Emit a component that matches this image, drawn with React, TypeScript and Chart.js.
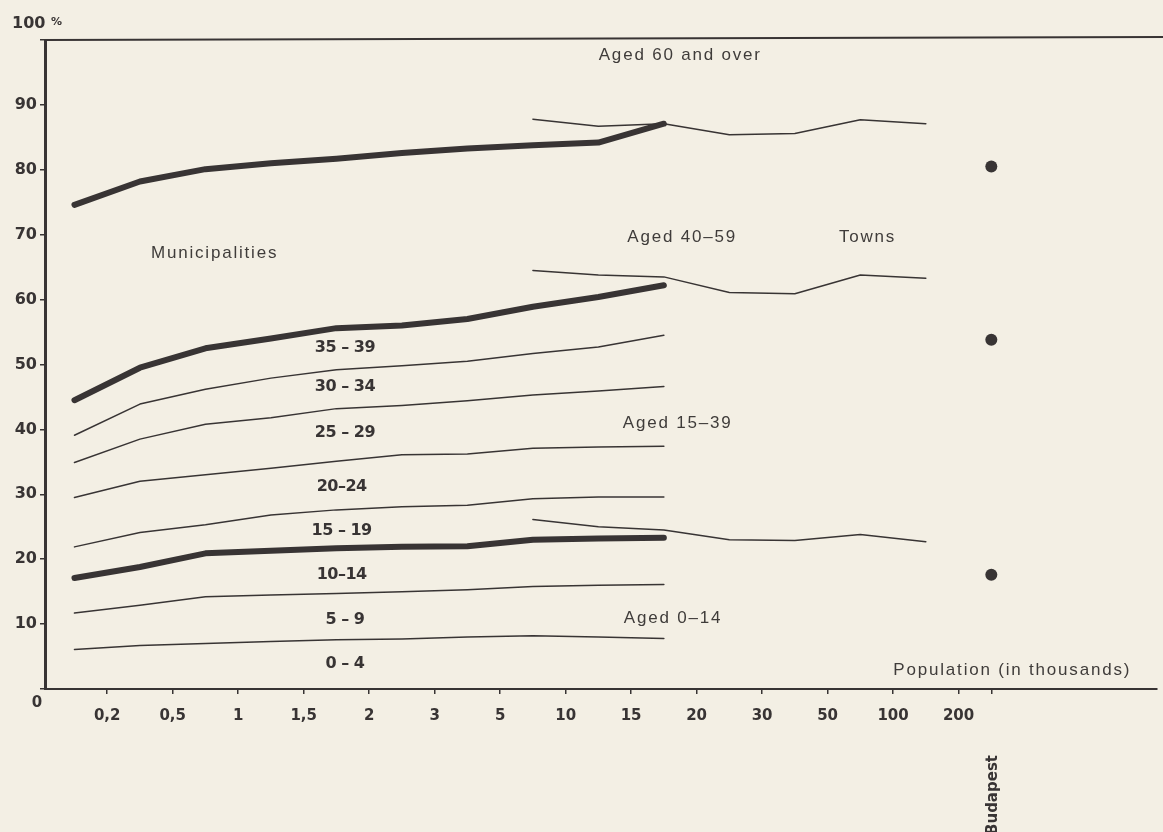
import { useEffect, useRef } from 'react';
import { Chart, registerables } from 'chart.js';

Chart.register(...registerables);

// ---------- data ----------
// settlement size boundaries (population, thousands) used as x tick labels
const sizeTickLabels = ['0,2', '0,5', '1', '1,5', '2', '3', '5', '10', '15', '20', '30', '50', '100', '200'];
// size classes (upper bound after the dash)
const municipalityClasses = ['–0,2', '0,2–0,5', '0,5–1', '1–1,5', '1,5–2', '2–3', '3–5', '5–10', '10–15', '15–20'];
const townClasses = ['5–10', '10–15', '15–20', '20–30', '30–50', '50–100', '100–200'];

// municipalities: cumulative share (%) of the population up to the given age
const munUpTo4 = [6.1, 6.7, 7.0, 7.3, 7.6, 7.7, 8.0, 8.2, 8.0, 7.8];
const munUpTo9 = [11.7, 12.9, 14.2, 14.5, 14.7, 15.0, 15.3, 15.8, 16.0, 16.1];
const munUpTo14 = [17.1, 18.8, 20.9, 21.3, 21.7, 21.9, 22.0, 23.0, 23.2, 23.3];
const munUpTo19 = [21.9, 24.1, 25.3, 26.8, 27.6, 28.1, 28.3, 29.3, 29.6, 29.6];
const munUpTo24 = [29.5, 32.0, 33.0, 34.0, 35.1, 36.1, 36.2, 37.1, 37.3, 37.4];
const munUpTo29 = [34.9, 38.5, 40.8, 41.8, 43.2, 43.7, 44.4, 45.3, 45.9, 46.6];
const munUpTo34 = [39.1, 43.9, 46.2, 47.9, 49.2, 49.8, 50.5, 51.7, 52.7, 54.5];
const munUpTo39 = [44.5, 49.5, 52.5, 54.0, 55.6, 56.0, 57.0, 58.9, 60.4, 62.2];
const munUpTo59 = [74.6, 78.2, 80.1, 81.0, 81.7, 82.6, 83.3, 83.8, 84.2, 87.1];

// towns: cumulative share (%)
const townUpTo14 = [26.1, 25.0, 24.5, 23.0, 22.9, 23.8, 22.7];
const townUpTo39 = [64.5, 63.8, 63.5, 61.1, 60.9, 63.8, 63.3];
const townUpTo59 = [87.8, 86.7, 87.1, 85.4, 85.6, 87.7, 87.1];

// Budapest: cumulative share up to 14, 39, 59 years
const budapestValues = [17.6, 53.8, 80.5];

// band labels between the municipality lines
const bandLabels = ['0 – 4', '5 – 9', '10–14', '15 – 19', '20–24', '25 – 29', '30 – 34', '35 – 39'];
const groupLabels = ['Aged 60 and over', 'Aged 40–59', 'Aged 15–39', 'Aged 0–14'];

// ---------- styling / layout ----------
const INK = '#383434';
const TEXT = '#3f3c3a';
const BG = '#f3efe4';
const W = 1163;
const H = 832;

// annotation anchors in data units
const bandLabelAnchors = [
  [4.63, 3.9], [4.63, 10.6], [4.58, 17.6], [4.58, 24.3],
  [4.58, 31.1], [4.63, 39.4], [4.63, 46.5], [4.63, 52.5],
];
const groupLabelAnchors = [[9.75, 97.6], [9.78, 69.6], [9.71, 41.0], [9.64, 10.9]];

const classCenter = (cls: string) => sizeTickLabels.indexOf(cls.split('–')[1]) + 0.5;

function toPoints(classes: string[], values: number[]) {
  return values.map((v, i) => ({ x: classCenter(classes[i]), y: v }));
}

const annotate = {
  id: 'annotate',
  beforeDraw(chart: any) {
    const { ctx } = chart;
    ctx.save();
    ctx.fillStyle = BG;
    ctx.fillRect(0, 0, chart.width, chart.height);
    ctx.restore();
  },
  afterDraw(chart: any) {
    const { ctx, chartArea, scales } = chart;
    const x = scales.x;
    const y = scales.y;
    ctx.save();
    // top frame line
    ctx.strokeStyle = INK;
    ctx.lineWidth = 2;
    ctx.beginPath();
    ctx.moveTo(chartArea.left - 1, chartArea.top);
    ctx.lineTo(chart.width, chartArea.top - 3);
    ctx.stroke();

    // "100 %" and "0"
    ctx.fillStyle = INK;
    ctx.textBaseline = 'middle';
    ctx.textAlign = 'left';
    (ctx as any).letterSpacing = '0px';
    ctx.font = 'bold 16px "DejaVu Sans", sans-serif';
    ctx.fillText('100', chartArea.left - 33, chartArea.top - 16);
    ctx.font = 'bold 11px "DejaVu Sans", sans-serif';
    ctx.fillText('%', chartArea.left + 6, chartArea.top - 18);
    ctx.font = 'bold 15px "DejaVu Sans", sans-serif';
    ctx.textAlign = 'center';
    ctx.fillText('0', chartArea.left - 8, chartArea.bottom + 14);

    // band labels
    ctx.font = 'bold 16px "DejaVu Sans", sans-serif';
    (ctx as any).letterSpacing = '-0.5px';
    ctx.textAlign = 'center';
    bandLabels.forEach((t, i) => {
      const [vx, vy] = bandLabelAnchors[i];
      ctx.fillText(t, x.getPixelForValue(vx), y.getPixelForValue(vy));
    });

    // plain labels
    ctx.fillStyle = TEXT;
    ctx.font = '17px "Liberation Sans", Arial, sans-serif';
    (ctx as any).letterSpacing = '1.8px';
    groupLabels.forEach((t, i) => {
      const [vx, vy] = groupLabelAnchors[i];
      ctx.fillText(t, x.getPixelForValue(vx), y.getPixelForValue(vy));
    });
    ctx.fillText('Municipalities', x.getPixelForValue(2.64), y.getPixelForValue(67.2));
    ctx.fillText('Towns', x.getPixelForValue(12.61), y.getPixelForValue(69.6));
    ctx.fillText('Population (in thousands)', x.getPixelForValue(14.82), y.getPixelForValue(2.9));

    // Budapest (rotated)
    ctx.fillStyle = INK;
    (ctx as any).letterSpacing = '0px';
    ctx.font = 'bold 15px "DejaVu Sans", sans-serif';
    ctx.translate(x.getPixelForValue(sizeTickLabels.length + 0.5) + 2, chartArea.bottom + 66);
    ctx.rotate(-Math.PI / 2);
    ctx.textAlign = 'right';
    ctx.textBaseline = 'middle';
    ctx.fillText('Budapest', 0, 0);
    ctx.restore();
  },
};

function lineDs(label: string, data: { x: number; y: number }[], thick: boolean) {
  return {
    label,
    data,
    borderColor: INK,
    backgroundColor: INK,
    borderWidth: thick ? 6 : 1.5,
    borderCapStyle: 'round' as const,
    borderJoinStyle: 'round' as const,
    pointRadius: 0,
    fill: false,
    tension: 0,
  };
}

export default function App() {
  const canvasRef = useRef<HTMLCanvasElement | null>(null);

  useEffect(() => {
    if (!canvasRef.current) return;
    const datasets: any[] = [
      lineDs('Municipalities 0–4', toPoints(municipalityClasses, munUpTo4), false),
      lineDs('Municipalities 0–9', toPoints(municipalityClasses, munUpTo9), false),
      lineDs('Municipalities 0–14', toPoints(municipalityClasses, munUpTo14), true),
      lineDs('Municipalities 0–19', toPoints(municipalityClasses, munUpTo19), false),
      lineDs('Municipalities 0–24', toPoints(municipalityClasses, munUpTo24), false),
      lineDs('Municipalities 0–29', toPoints(municipalityClasses, munUpTo29), false),
      lineDs('Municipalities 0–34', toPoints(municipalityClasses, munUpTo34), false),
      lineDs('Municipalities 0–39', toPoints(municipalityClasses, munUpTo39), true),
      lineDs('Municipalities 0–59', toPoints(municipalityClasses, munUpTo59), true),
      lineDs('Towns 0–14', toPoints(townClasses, townUpTo14), false),
      lineDs('Towns 0–39', toPoints(townClasses, townUpTo39), false),
      lineDs('Towns 0–59', toPoints(townClasses, townUpTo59), false),
      {
        label: 'Budapest',
        data: budapestValues.map((v) => ({ x: sizeTickLabels.length + 0.5, y: v })),
        showLine: false,
        pointRadius: 6,
        pointBackgroundColor: INK,
        pointBorderWidth: 0,
        borderColor: INK,
      },
    ];

    const chart = new Chart(canvasRef.current, {
      type: 'line',
      data: { datasets },
      plugins: [annotate],
      options: {
        animation: false,
        responsive: true,
        maintainAspectRatio: false,
        layout: { padding: { top: 40, right: 3, bottom: 0, left: 0 } },
        plugins: { legend: { display: false }, tooltip: { enabled: false } },
        scales: {
          x: {
            type: 'linear',
            min: 0.05,
            max: 17.03,
            afterFit: (s: any) => {
              s.height = H - 689;
            },
            afterBuildTicks: (s: any) => {
              s.ticks = [
                ...sizeTickLabels.map((_, i) => ({ value: i + 1 })),
                { value: sizeTickLabels.length + 0.5 },
              ];
            },
            ticks: {
              autoSkip: false,
              maxRotation: 0,
              padding: 13,
              color: INK,
              font: { family: '"DejaVu Sans", sans-serif', size: 15, weight: 'bold' },
              callback: (_v: any, i: number) => sizeTickLabels[i] ?? '',
            },
            grid: { drawOnChartArea: false, drawTicks: true, tickLength: 5, color: INK, lineWidth: 1.5 },
            border: { display: true, color: INK, width: 2 },
          },
          y: {
            type: 'linear',
            min: 0,
            max: 100,
            afterFit: (s: any) => {
              s.width = 45;
            },
            ticks: {
              stepSize: 10,
              padding: 3,
              color: INK,
              font: { family: '"DejaVu Sans", sans-serif', size: 16, weight: 'bold' },
              callback: (v: any) => (v === 0 || v === 100 ? '' : String(v)),
            },
            grid: { drawOnChartArea: false, drawTicks: true, tickLength: 5, color: INK, lineWidth: 1.5 },
            border: { display: true, color: INK, width: 3 },
          },
        },
      } as any,
    });
    return () => chart.destroy();
  }, []);

  return (
    <div style={{ position: 'fixed', left: 0, top: 0, width: W, height: H, background: BG }}>
      <canvas ref={canvasRef} />
    </div>
  );
}
